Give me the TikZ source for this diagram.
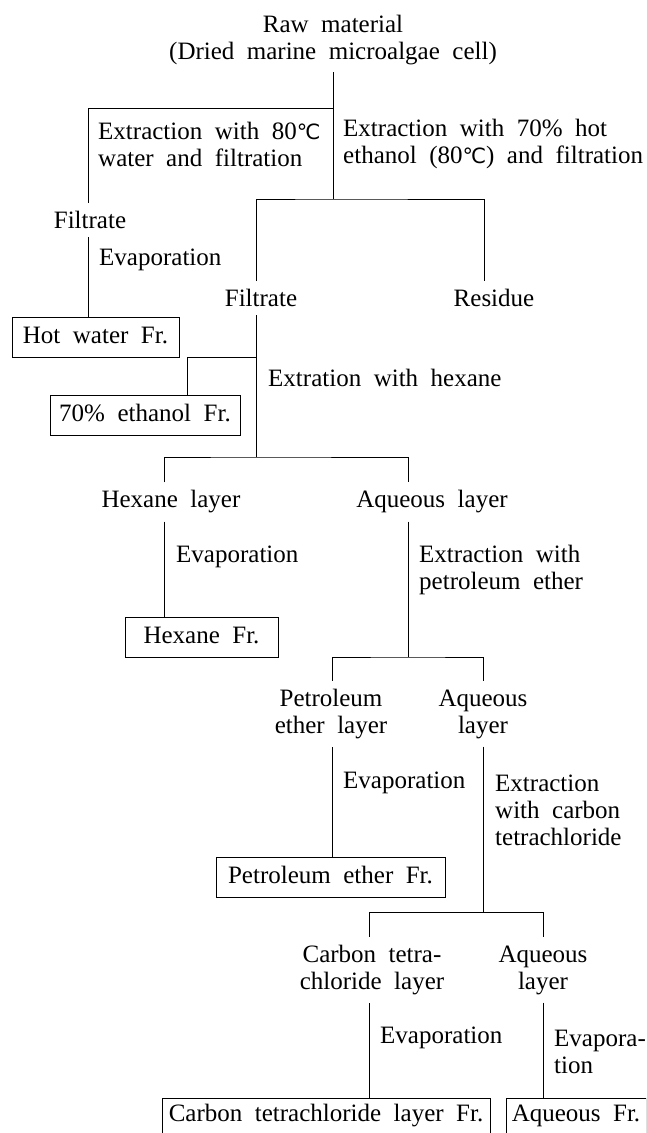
\documentclass[tikz,border=0pt]{standalone}
\usepackage{fontspec}
\setmainfont{Liberation Serif}
\newfontfamily\symfont{DejaVu Sans}
\newcommand\degC{{\symfont\fontsize{21}{27}\selectfont ℃}}
\begin{document}
\begin{tikzpicture}[x=1pt,y=-1pt,
  every node/.style={font={\fontsize{25}{27}\selectfont\spaceskip=0.5em\relax}},
  lbl/.style={inner xsep=0pt,inner ysep=8pt,align=center},
  note/.style={anchor=west,inner sep=0pt,align=left},
  frbox/.style={draw,line width=0.9pt,inner xsep=0pt,inner ysep=0pt,minimum height=40pt,text height=17pt,text depth=5pt},
  endbox/.style={draw,line width=0.9pt,anchor=north,inner xsep=0pt,inner ysep=5pt,text height=18pt,text depth=20pt},
  conn/.style={line width=0.9pt}]
\useasboundingbox (0,0) rectangle (646,1133);
\clip (0,0) rectangle (646,1133);

% text nodes
\node[lbl,inner ysep=7pt] (raw) at (333,40) {Raw material\\(Dried marine microalgae cell)};
\node[note] (n1) at (98,144) {Extraction with 80\degC\\water and filtration};
\node[note] (n2) at (343,144) {Extraction with 70\% hot\\ethanol (80\degC) and filtration};
\node[lbl] (filtA) at (90,220) {Filtrate};
\node[note] (evA) at (99,260) {Evaporation};
\node[lbl] (filtB) at (261,298) {Filtrate};
\node[lbl] (resid) at (494,298) {Residue};
\node[frbox,minimum width=167pt] (hotw) at (95.5,337) {Hot water Fr.};
\node[frbox,minimum width=190pt] (eth) at (145,415.5) {70\% ethanol Fr.};
\node[note] (n3) at (268,378) {Extration with hexane};
\node[lbl] (hexL) at (171,502) {Hexane layer};
\node[lbl] (aqA) at (432,502) {Aqueous layer};
\node[note] (evB) at (176,557) {Evaporation};
\node[note] (n4) at (419,570) {Extraction with\\petroleum ether};
\node[frbox,minimum width=153pt] (hexF) at (201.5,637) {Hexane Fr.};
\node[lbl] (petL) at (331,714) {Petroleum\\ether layer};
\node[lbl] (aqB) at (483,714) {Aqueous\\layer};
\node[note] (evC) at (343,783) {Evaporation};
\node[note] (n5) at (495,810) {Extraction\\with carbon\\tetrachloride};
\node[frbox,minimum width=229pt] (petF) at (330.5,877) {Petroleum ether Fr.};
\node[lbl] (ctL) at (372,970) {Carbon tetra-\\chloride layer};
\node[lbl] (aqC) at (543,970) {Aqueous\\layer};
\node[note] (evD) at (380,1038) {Evaporation};
\node[note] (evE) at (554,1051.5) {Evapora-\\tion};
\node[endbox,minimum width=328pt] (ctF) at (326,1098) {Carbon tetrachloride layer Fr.};
\node[endbox,minimum width=140pt] (aqF) at (576,1098) {Aqueous Fr.};

% line columns and junctions
\coordinate (cA) at (88,0);
\coordinate (cB) at (256,0);
\coordinate (cR) at (484,0);
\coordinate (cE) at (187,0);
\coordinate (cH) at (164,0);
\coordinate (cQ) at (408,0);
\coordinate (cP) at (332,0);
\coordinate (cQ2) at (483,0);
\coordinate (cC) at (369,0);
\coordinate (cQ3) at (543,0);
\coordinate (t0) at (333,108);
\coordinate (t1) at (333,199);
\coordinate (t3) at (256,357);
\coordinate (t2) at (256,457);
\coordinate (t4) at (408,657);
\coordinate (t5) at (483,912);

% connectors
\draw[conn] (raw.south) -- (t1);
\draw[conn] (t0) -| (filtA.north -| cA);
\draw[conn] (filtA.south -| cA) -- (hotw.north -| cA);
\draw[conn] (filtB.north -| cB) |- (t1) -| (resid.north -| cR);
\draw[conn] (filtB.south -| cB) -- (t2);
\draw[conn] (t3) -| (eth.north -| cE);
\draw[conn] (hexL.north -| cH) |- (t2) -| (aqA.north -| cQ);
\draw[conn] (hexL.south -| cH) -- (hexF.north -| cH);
\draw[conn] (aqA.south -| cQ) -- (t4);
\draw[conn] (petL.north -| cP) |- (t4) -| (aqB.north -| cQ2);
\draw[conn] (petL.south -| cP) -- (petF.north -| cP);
\draw[conn] (aqB.south -| cQ2) -- (t5);
\draw[conn] (ctL.north -| cC) |- (t5) -| (aqC.north -| cQ3);
\draw[conn] (ctL.south -| cC) -- (ctF.north -| cC);
\draw[conn] (aqC.south -| cQ3) -- (aqF.north -| cQ3);
\end{tikzpicture}
\end{document}
